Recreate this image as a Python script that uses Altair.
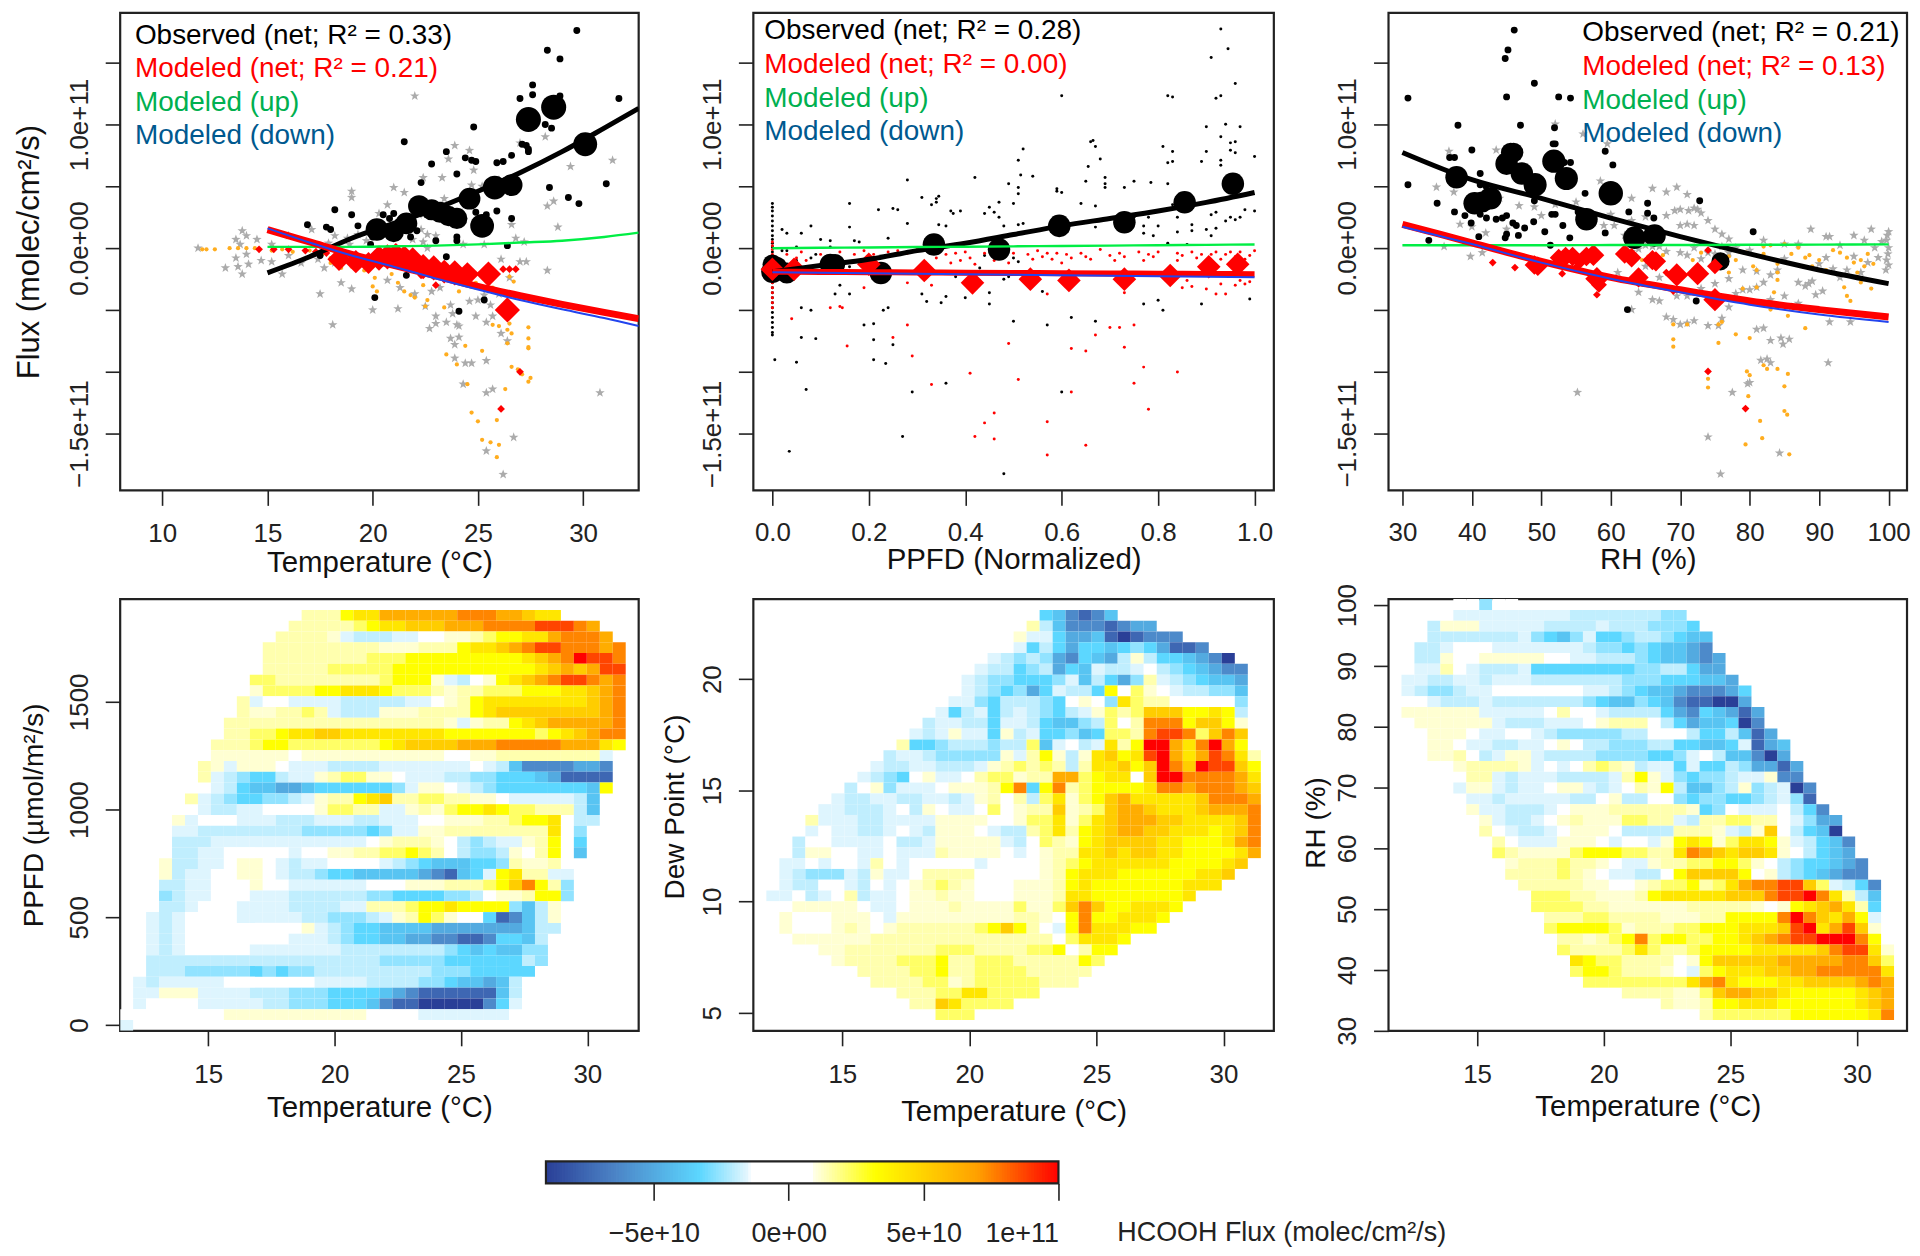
import altair as alt
import pandas as pd

FONT = "Liberation Sans"
FRAME = "#222222"
STAR = "M0,-1L0.24,-0.32L0.95,-0.31L0.38,0.12L0.59,0.81L0,0.4L-0.59,0.81L-0.38,0.12L-0.95,-0.31L-0.24,-0.32Z"
BIG_SCALE = 1.5
DIAMOND_SCALE = 1.6

# ---------- panel 1 : flux vs temperature (flux in units of 1e10) ----------
P1_STARS = [(22,12.3),(28.2,9),(27,8.5),(23.9,8.3),(24.6,7.9),(23.6,7.2),(24.8,6.3),(22.4,5.7),(23.3,5.7),(26,5.5),(26.8,5.4),(24.7,5.1),(25.2,5),(29.4,6.6),(31.4,7.1),(19,4.6),(19,4.1),(21,4.9),(21.5,4.5),(20.7,3.5),(20.3,2.8),(28.6,3.8),(28.8,1.7),(26.6,1.9),(28.3,3.4),(24.4,3.5),(23.4,4),(23.7,3),(22.2,2.7),(17.1,1.5),(13.8,1.4),(14,1),(13.5,.7),(13.7,.3),(14.5,.7),(15.2,.3),(16,1),(18.2,1),(18.8,.8),(19.3,1.1),(20.1,1.4),(19.7,.6),(18.9,.3),(17.9,.4),(17.4,.2),(22.6,1.1),(22.3,1.5),(21.9,.7),(22.4,.5),(23,1),(22.6,0),(24.3,.3),(25.3,.3),(26.8,.8),(27.2,.5),(11.7,0),(13,-1.6),(13.5,-.8),(13.6,-1.5),(14,-.5),(14.1,-1.3),(13.8,-2.1),(14.7,-1),(15.2,-1.1),(15.7,-2.1),(16,-.6),(16.6,-1.2),(17.4,-.9),(17.7,-1.6),(18.2,-1.2),(18.7,-.8),(19.3,-1.1),(17.5,-3.7),(18.5,-2.8),(19,-3.3),(20,-5),(20.7,-2.6),(21.2,-4.9),(21.3,-3.2),(22,-3.7),(18.1,-6.2),(22.5,-4.7),(22.8,-3.5),(23.2,-3.2),(23,-5.5),(23.7,-4.6),(24.6,-4.3),(25,-4.2),(25.3,-3.8),(25.6,-2.2),(26.1,-.9),(26.5,-2.4),(27,-1.1),(27.3,-1.1),(28.3,-1.8),(26,-3.7),(25.6,-4.6),(26.1,-5),(25.4,-6),(24.9,-5.5),(22.7,-6.5),(23,-6.1),(23.5,-6),(23.8,-5.3),(24,-6.2),(24.1,-7.2),(23.7,-7.3),(23.9,-7.8),(24.1,-6.3),(25.7,-5.5),(26.1,-6.9),(26.4,-7.5),(24.4,-9.3),(24.7,-9.3),(23.9,-8.9),(25.4,-9.1),(24.3,-11),(25.4,-11.7),(25.7,-11.4),(30.8,-11.7),(26.7,-15.3),(25.4,-16.4),(26.2,-18.3)]
P1_ORANGE = [(11.9,-.1),(12.1,-.1),(12.5,-.1),(13.2,0),(13.6,0),(14,0),(14.4,0),(15.2,-.2),(15.7,-.1),(16.2,-.3),(17,-.2),(17.6,-.5),(18,-.8),(18,-1.2),(18.5,-1.6),(19,-1.5),(19.6,-1.8),(20.1,-2.4),(20,-3.1),(20.2,-3.5),(20.9,-2.1),(21.2,-2.8),(21.5,-3.5),(21.8,-3.8),(22,-4),(22.4,-3),(22.6,-4.2),(22.5,-4.7),(23.4,-4.8),(24.1,-3.5),(24.4,-2.5),(24.9,-2.8),(25.2,-3.3),(25.7,-3.2),(26.4,-3.6),(26.5,-2.3),(26.7,-2.7),(26.5,-6.1),(26.4,-6.6),(26,-6.3),(25.7,-6.2),(26.6,-6.9),(27.4,-6.4),(27.4,-7.3),(27.4,-8),(27.4,-8.1),(26.4,-7.7),(25.2,-8.3),(23.5,-8.6),(24,-9.4),(24.4,-7.9),(24.5,-11),(24.7,-13.3),(25,-14),(25.2,-15.5),(25.6,-15.7),(26,-15.9),(25.9,-16.9),(25.9,-13.9),(26.3,-11.4),(26.6,-9.6),(26.9,-9.8),(27.1,-10.2),(27.4,-10.8),(27.5,-10.5)]
P1_BLACK = [(29.7,17.6),(28.3,16),(28.9,15.3),(27.6,13.2),(27.6,12.4),(27,12.1),(28.9,12.3),(31.7,12.1),(28.2,10),(28.5,9.7),(24.8,9.8),(21.5,8.6),(27.1,8.4),(27.3,8.3),(27.4,7.8),(27.4,8),(23.5,7.8),(24.4,7.3),(24.7,7.1),(24.9,7),(22.8,6.8),(26.6,7.5),(26.2,7),(25.9,6.9),(24,6),(22.3,5.3),(31.1,5.2),(28.4,4.9),(29.3,4.1),(29.8,3.6),(18.2,3.1),(19,2.7),(16.9,1.9),(17.8,1.7),(18,1.5),(19.3,1.8),(20.5,2.7),(21,2.8),(20.8,2.4),(21.2,2.1),(25.9,3),(24.9,2.9),(25.4,2.7),(26.6,2.4),(26.4,.2),(23.5,-.7),(24,.9),(24,.6),(25.3,-4.2),(24.1,-5.1),(20.1,-4),(22.1,1.4),(21.8,.9),(23,.6),(20,.9),(19.9,.3),(21.6,-2.2),(17.5,-.6)]
P1_RED = [(14.6,-.1),(15.3,-.1),(16,-.1),(16.8,-.2),(17.3,-.3),(17.8,-.4),(26.2,-1.7),(26.5,-1.7),(26.8,-1.7),(27,-10),(26.1,-13),(22.3,-2.2),(23,-3)]
P1_BIG = [(27.4,10.4,420),(28.6,11.4,420),(30.1,8.4,380),(26.6,5.1,320),(25.8,4.9,380),(24.6,4,320),(25.2,1.8,380),(24,2.4,300),(23.2,2.9,300),(22.8,3.1,300),(22.2,3.4,320),(21.6,2,320),(21,1.3,280),(20.2,1.5,340),(23.6,2.6,280)]
P1_DIAMONDS = [(18.4,-.9,340),(19.2,-1.1,340),(19.8,-1.2,300),(20.3,-.8,400),(20.7,-.7,400),(21.1,-.6,400),(21.5,-.8,400),(21.9,-.9,360),(22.4,-1.5,400),(22.9,-1.6,400),(23.4,-1.9,360),(23.9,-2,400),(24.5,-2.1,360),(25.5,-2.1,400),(26.4,-5,400)]
P1_LINE_X = [15,17,19,21,23,25,27,29,31,32.64]
P1_OBS = [-2,-.7,.8,2,3.2,4.6,6.1,7.8,9.7,11.3]
P1_MOD = [1.5,.5,-.5,-1.4,-2.25,-3.1,-3.85,-4.55,-5.2,-5.7]
P1_DOWN = [1.6,.45,-.6,-1.5,-2.45,-3.35,-4.2,-4.95,-5.65,-6.3]
P1_UP = [.1,.1,.1,.15,.2,.3,.45,.6,.9,1.25]
P1_TEXT = ["Observed (net; R² = 0.33)", "Modeled (net; R² = 0.21)", "Modeled (up)", "Modeled (down)"]

# ---------- panel 2 : flux vs normalized PPFD ----------
P2_BLACK = [(0.93,17.7),(0.945,16.1),(0.91,15.4),(0.96,13.3),(0.6,12.3),(0.82,12.3),(0.83,12.2),(0.92,12.1),(0.93,12.3),(0.94,10),(0.97,9.8),(0.9,9.8),(0.93,9),(0.95,8.5),(0.96,8.6),(0.66,8.6),(0.665,8.7),(0.67,8.2),(0.52,8),(0.81,8.2),(0.83,7.8),(0.9,7.8),(0.95,7.9),(0.96,7.7),(1,7.4),(0.68,7.2),(0.51,7.1),(0.655,6.6),(0.83,7),(0.82,6.9),(0.89,7),(0.93,7.1),(0.93,6.7),(0.42,5.7),(0.515,5.9),(0.54,5.8),(0.69,5.7),(0.65,5.4),(0.69,5.2),(0.69,4.9),(0.75,5.4),(0.785,5.3),(0.82,5.2),(0.49,5.2),(0.28,5.5),(0.51,4.9),(0.51,4.4),(0.73,4.9),(0.59,4.8),(0.59,4.6),(0.6,4.5),(0.31,4.1),(0.34,4.0),(0.345,4.2),(0.34,3.7),(0.33,3.5),(0.16,3.6),(0.47,3.7),(0.5,3.6),(0.45,3.3),(0.64,3.6),(0.67,3.4),(0.83,3.5),(0.98,3.1),(1,3),(0.22,3.1),(0.25,3.2),(0.26,3.1),(0.37,3),(0.375,2.8),(0.44,2.8),(0.46,2.9),(0.47,2.5),(0.92,2.9),(0.91,2.7),(0.84,2.5),(0.78,2.5),(0.39,3),(0.75,2.5),(0.97,2.5),(0.96,2.3),(0.95,2.5),(0.94,2.2),(0.92,1.6),(0.87,1.9),(0.8,1.8),(0.77,1.8),(0.16,1.7),(0.08,1.8),(0.28,2),(0.345,1.9),(0.36,1.8),(0.51,1.9),(0.52,2),(0.48,1.8),(0.67,1.7),(0.72,1.8),(0.77,1.2),(0.79,1),(0.84,1.3),(0.87,1.4),(0.9,1.5),(0.91,1),(0.82,.4),(0.86,.3),(0.02,1.5),(0.03,1.2),(0.06,1.2),(0.1,.7),(0.12,.6),(0.12,.1),(0.17,.6),(0.18,.5),(0.24,.8),(0.09,-.5),(0.08,-.8),(0.03,-.2),(0.05,.1),(0.02,-.2),(0.05,-1),(0.44,-.6),(0.5,-.8),(0.51,-1.1),(0.43,-1.6),(0.48,-2.5),(0.49,-2.3),(0.38,-2.3),(0.2,-1.5),(0.16,-1.5),(0.21,-1.1),(0.1,-2),(0.14,-3),(0.13,-3.7),(0.16,-3.7),(0.36,-3.9),(0.4,-4),(0.56,-3.5),(0.31,-3.7),(0.32,-4.3),(0.35,-4.4),(0.45,-4.5),(0.45,-3.6),(0.8,-4.2),(0.81,-5),(0.89,-4.5),(0.99,-4.1),(0.77,-4.5),(0.06,-4.8),(0.08,-5),(0.24,-4.8),(0.23,-5),(0.19,-6.2),(0.21,-6.1),(0.5,-5.9),(0.57,-6.2),(0.62,-5.6),(0.67,-5.9),(0.06,-7.2),(0.09,-7.3),(0.21,-7.4),(0.25,-7.8),(0.21,-9),(0.235,-9.3),(0.005,-9),(0.05,-9.2),(0.07,-11.4),(0.36,-10.9),(0.29,-11.6),(0.6,-11.6),(0.27,-15.2),(0.035,-16.4),(0.48,-18.2)]
P2_BLACK_STREAK = [3.6,3.3,3,2.6,2.2,1.8,1.4,1,.7,.4,.1,-.3,-.7,-1.1,-2.4,-2.8,-3.2,-3.6,-4,-4.4,-4.8,-5.2,-5.6,-6,-6.4,-6.8,-7]
P2_RED = [(0.03,-.5),(0.05,-.8),(0.06,-.3),(0.07,-1),(0.1,-.5),(0.12,-.9),(0.14,-.3),(0.17,-.5),(0.19,-.2),(0.21,-.5),(0.24,-.3),(0.26,-.2),(0.28,-.4),(0.3,-.1),(0.33,-.3),(0.34,-.8),(0.36,-.5),(0.37,-1.2),(0.38,-.4),(0.39,-1),(0.4,-.3),(0.41,-.8),(0.42,-1.3),(0.44,-.4),(0.46,-1),(0.47,-.3),(0.49,-1.2),(0.5,-.4),(0.53,-.5),(0.54,-.9),(0.55,-.2),(0.56,-.7),(0.57,-.4),(0.58,-.9),(0.59,-.4),(0.6,-1.2),(0.61,-.5),(0.62,-.8),(0.64,-.4),(0.65,-.7),(0.66,-.9),(0.68,-.1),(0.7,-.6),(0.71,-1),(0.72,-.4),(0.73,-.7),(0.76,-.3),(0.77,-1),(0.78,-.5),(0.79,-.7),(0.8,-.3),(0.84,-.4),(0.84,-1),(0.85,-.6),(0.87,-.3),(0.88,-.8),(0.89,-.5),(0.9,-1),(0.91,-.5),(0.92,-.3),(0.93,-.9),(0.94,-.5),(0.95,-.3),(0.96,-.7),(0.97,-.3),(0.98,-.9),(0.99,-.6),(1,-.2),(0.99,-2.7),(0.97,-2.6),(0.93,-2.9),(0.9,-3.3),(0.87,-3.1),(0.85,-3.2),(0.86,-2.6),(0.92,-3.7),(0.94,-3.7),(0.96,-3),(0.98,-2.9),(0.73,-3.6),(0.43,-2.6),(0.57,-3.7),(0.33,-3),(0.28,-2.8),(0.19,-3.2),(0.14,-4.7),(0.12,-4.8),(0.145,-4.8),(0.04,-5.7),(0.28,-6.2),(0.25,-7.2),(0.155,-7.9),(0.29,-8.7),(0.49,-7.7),(0.62,-8.1),(0.65,-8.3),(0.67,-7),(0.7,-6.4),(0.72,-6.4),(0.75,-6.2),(0.73,-8),(0.77,-9.6),(0.84,-10),(0.75,-10.9),(0.62,-11.6),(0.51,-10.6),(0.41,-10.1),(0.33,-11),(0.78,-13),(0.46,-13.3),(0.44,-14.1),(0.57,-14),(0.42,-15.2),(0.46,-15.4),(0.65,-15.9),(0.57,-16.7)]
P2_RED_STREAK = [.5,.2,-.1,-.5,-.9,-1.2,-2.4,-2.8,-3.2,-3.6,-4,-4.4,-4.8]
P2_BIG = [(0,-1.9,340),(0.03,-2,300),(0.12,-1.3,300),(0.13,-1.3,280),(0.225,-2,340),(0.335,.3,340),(0.47,-.1,340),(0.595,1.8,340),(0.73,2.1,340),(0.855,3.7,340),(0.955,5.2,340),(0,-1.3,260),(0.01,-1.5,260)]
P2_DIAMONDS = [(0,-1.7,350),(0.045,-1.7,350),(0.2,-1.3,350),(0.315,-1.8,350),(0.415,-2.8,350),(0.535,-2.5,350),(0.615,-2.6,350),(0.73,-2.5,350),(0.825,-2.2,350),(0.905,-1.5,350),(0.965,-1.3,350)]
P2_LINE_X = [0,.1,.2,.3,.4,.5,.6,.7,.8,.9,1]
P2_OBS = [-1.9,-1.4,-.9,-.2,.4,1.1,1.8,2.4,3,3.7,4.5]
P2_MOD = [-1.9,-1.92,-1.94,-1.96,-1.98,-2,-2.02,-2.04,-2.06,-2.08,-2.1]
P2_DOWN = [-1.95,-1.99,-2.03,-2.07,-2.11,-2.15,-2.19,-2.23,-2.27,-2.31,-2.35]
P2_UP = [0,.03,.06,.09,.12,.15,.18,.21,.24,.27,.3]
P2_TEXT = ["Observed (net; R² = 0.28)", "Modeled (net; R² = 0.00)", "Modeled (up)", "Modeled (down)"]

# ---------- panel 3 : flux vs relative humidity ----------
P3_STARS = [(52,10),(56,9.2),(59.5,8.4),(36.7,7.8),(43.5,7.9),(46.5,6.5),(38,5.7),(34.9,4.9),(37.4,4.5),(44,4),(46.8,3.4),(49,3.3),(52,3.5),(55,3.7),(50,2.6),(58.5,5.4),(60,2.7),(63,4),(66,4.8),(68,4.5),(69.5,4.9),(71,4.3),(70,3.1),(69.2,3),(71.2,3),(72,3.2),(72.5,3.1),(73,2.8),(68,2.6),(65,2.5),(63,2.2),(70,1.8),(71,1.9),(72,1.8),(74,2.2),(75,1.5),(76,1.1),(77,.7),(62,1),(60.5,1.8),(59,1.8),(57.5,2),(45,1.5),(42,1.2),(40,1.7),(38.3,1.9),(36,.1),(39.8,-.7),(41.5,-.4),(63,-.3),(64,-.1),(65,.2),(66,.1),(67,.1),(68,-.3),(70,-.4),(71,-.6),(72,0),(73,-.9),(74,-.4),(75,-.5),(76,.1),(77,-.4),(78,0),(80,-.2),(82,.6),(85,.3),(87,.3),(88.8,1.5),(91,.9),(91.5,.9),(93,.2),(95,1),(97.5,1.5),(96.5,.6),(98,0),(99,.5),(99.8,1),(100,1.3),(99.7,.6),(100,0),(99.9,-.5),(99.7,-1),(100,-1.4),(99.6,-1.8),(98.5,-.8),(97,-1.2),(96,-2),(95,-.7),(94,-1.8),(93,-2.4),(92,-1.7),(91,-.8),(90,-1.3),(89,-2.7),(88,-3.1),(90.5,-3.5),(87,-2.8),(85,-.9),(84,-1.8),(83,-2.2),(82,-2.8),(81,-3.2),(80,-3.4),(79,-3.4),(78,-3.7),(77,-4.8),(76,-5.7),(75.5,-6.3),(74,-6.3),(72,-5.9),(71,-6.1),(70,-6.2),(69,-5.8),(68,-5.6),(67,-4.3),(66,-4.2),(64,-3.6),(63,-5),(61,-2),(65,-1.5),(67,-2.4),(69.5,-3.9),(71,-3.9),(73,-3.3),(75,-2.9),(77,-2.5),(79,-1.8),(81,-1.9),(83,-4.2),(85,-3.9),(87,-4.5),(86,-4.8),(88.5,-2.9),(89.5,-3.8),(91.5,-6),(94.5,-6),(81,-6.6),(82,-6.5),(83,-7.5),(84.5,-7.3),(85.7,-7.4),(84.8,-7.8),(82.5,-9),(83,-9.3),(81.6,-9.1),(79.7,-11),(80,-10.9),(77.5,-11.7),(55.2,-11.7),(91.3,-9.3),(74,-15.3),(84.3,-16.6),(75.8,-18.3)]
P3_ORANGE = [(63,-2.7),(64.5,-1),(65.4,-.7),(67.5,-.6),(71.8,-1),(73,-.4),(75.3,-1),(75.8,-1.3),(77,-.7),(78,-1),(78.5,-.3),(79.5,-.4),(80.5,-1.5),(81,-1.8),(82,.1),(83,.2),(84,-1.3),(84,-2),(84,-2.6),(83.5,-3.6),(82,-.5),(85,.3),(86,-.5),(87,0),(88,-.8),(88.6,-.6),(89,-1.5),(90,-1),(91,-1.8),(92,-.2),(93,-.4),(94,-.8),(95,-1.2),(95.5,-2),(96,-1),(96.5,-1.5),(97,-.5),(97.8,-1.3),(96,-2.8),(97.5,-3.3),(94,-3.9),(94.5,-4.3),(93.6,-3.2),(69,-6.2),(69,-7.4),(69,-8),(71,-6.2),(75.5,-6.2),(75.5,-7.7),(78,-7),(80,-7.3),(79.6,-10),(79.8,-12),(80,-10.3),(82,-9.5),(82.5,-9.8),(84,-9.8),(85,-11.2),(85.5,-10.2),(85,-13.2),(85.4,-13.5),(81.5,-14),(81.8,-15.4),(79.4,-15.9),(85.7,-16.7),(74,-10.6),(74,-11.3),(76,-6),(77,-2),(79,-3.3),(81,-3.2),(82,-4.5),(83,-5),(85.5,-5.5),(88,-6.5)]
P3_BLACK = [(46.1,17.6),(45.2,16),(44.8,15.3),(49,13.3),(45,12.2),(52.5,12.2),(54.2,12.1),(30.8,12.1),(51.9,9.7),(38,9.9),(47,9.9),(59.2,7.8),(40,7.9),(60.3,6.7),(30.8,5.1),(56.3,4.4),(35,3.6),(37.5,2.9),(39,2.6),(39.9,2),(41.2,2.7),(42.1,2.4),(43.5,2.3),(44.4,2.4),(45,2.6),(45.9,2),(46.4,1.8),(47.6,1.6),(48.9,2.1),(50.5,1.3),(51.5,2.7),(52,2.7),(53.1,1.8),(54.1,.8),(51.3,.2),(55.3,2.9),(46.7,1),(45,1.1),(44.8,.8),(41,.9),(33.8,.6),(49,3.8),(41.2,5.1),(41.2,6),(42,5),(36.8,7.3),(37.5,7.3),(51.7,8.4),(52,8.4),(53.3,6.9),(54.2,6.9),(59.2,1.2),(62.6,2.9),(65.3,3.6),(65.3,2.8),(66.2,2.4),(72.8,3.8),(80.5,1.3),(75.8,-.8),(72.3,-4.3),(62.4,-5),(69,-2.3)]
P3_RED = [(43,-1.2),(46.2,-1.6),(69,-3.5),(58,-3.8),(53,-2.1),(54.9,-1.6),(74,-10),(79.4,-13),(68,-2),(74,-.2)]
P3_BIG = [(37.8,5.7,340),(40.4,3.6,340),(41.5,3.7,300),(42.7,4,340),(45,6.8,340),(45.6,7.7,260),(46,7.7,260),(47.2,6,340),(49.1,5.1,360),(51.8,7,360),(53.6,5.6,360),(60,4.4,400),(56.5,2.3,340),(63.4,.8,340),(66.3,1,340),(75.8,-1.1,220)]
P3_DIAMONDS = [(49,-1.4,240),(49.5,-1.5,240),(52.5,-.8,200),(53.5,-.7,240),(54.5,-.7,240),(56.5,-.7,240),(57.5,-.6,300),(58,-2.5,340),(62,-.5,240),(63,-.8,240),(66,-1,260),(66.5,-1.1,260),(64,-2.4,260),(69.5,-2.2,340),(72.5,-2.1,340),(75,-4.2,340),(58.3,-3,160),(75,-1.5,160),(55.5,-1.1,160)]
P3_LINE_X = [30,40,50,60,70,80,90,100]
P3_OBS = [7.7,5.5,4,2.4,.9,-.5,-1.8,-2.9]
P3_MOD = [1.9,.4,-1.1,-2.4,-3.4,-4.3,-5,-5.6]
P3_DOWN = [1.7,.3,-1.2,-2.5,-3.6,-4.6,-5.4,-6]
P3_UP = [.2,.2,.2,.22,.22,.24,.25,.27]
P3_TEXT = ["Observed (net; R² = 0.21)", "Modeled (net; R² = 0.13)", "Modeled (up)", "Modeled (down)"]

# ---------- heat maps : one character per cell ----------
LEVELS = {"A":-9,"B":-7.5,"C":-6.2,"D":-5,"E":-4,"F":-3.3,"G":-2.6,"H":-2,"I":-1.6,
          "0":0,"1":1.15,"2":1.5,"3":2.2,"4":3.2,"5":4.2,"6":5.2,"7":6.5,"8":7.5,"9":8.7,"R":10}
COLOR_STOPS = [-9,-6.5,-3.3,-1.5,-1.4,0.87,0.95,3.2,7,10]
COLOR_HEX = ["#2a3f97","#4b82c5","#5cd7ff","#e6f7fe","#ffffff","#ffffff","#ffffe6","#ffff00","#ffa000","#ff0000"]

P4_STARTS = [0,14,13,12,11,11,11,10,10,9,9,8,8,7,7,6,6,7,5,6,4,4,4,4,3,3,3,3,3,2,2,2,2,2,2,1,1,1,0,0]
P4_ROWS = ["",
"22245577777788877655","222223455666777888899987","22221IHHHII001123445578887",
"2222222221112224556789988878","2222222233344444444 45678R998".replace(" ",""),"2222233333444444444445676799",
"33222222223444 1IH014567899878".replace(" ",""),"13333445554333212233344455678",
"2I00IIIIHHHHHII01245555555 5678".replace(" ",""),"2112232IHHH111222245666666 6678".replace(" ",""),
"22222222222222222 1I122456777778".replace(" ",""),"22334556655555555444444434567 88".replace(" ",""),
"22234433333334566667778888877 754".replace(" ",""),"1111110111111111110011222222 22I".replace(" ",""),
"21I1110IIIHHHHIIIIIII0IHECCCCDDC","2IHGFFHII12331 10IIIHHGGFFFEDBBBB".replace(" ",""),
"IHFEEDDEFFFFFFGI110IHGFFFFFFFE4","2IHGFFGGHI1224562233221 10IIIIIHE".replace(" ",""),
"IHHII000013322II1213445433222HE","1I000IIIHHHIIIHHIII001112234450HH","IIHHHHHHHHGGGGGFGII112222222250G",
"HHHIIIIIIIIIIII01222 10HGHII1240F".replace(" ",""),"HHII00000I00112233432 0HGGH10240E".replace(" ",""),
"1HHII0110IHII0000IHGFEEEFFG2112","1HII00110IHHGFFEEEEEDCBEFI4522II","HHII00010 0IIIIII0001112223468 42G".replace(" ",""),
"GHII000IIIHHHHHHGGFFFFGGH011244G","HHI000IIIIHHHHII2223 445444 4GEH1".replace(" ",""),
"IHI0000IIIIIHHGGGHI12431 00FBCEH1".replace(" ",""),"IHI0000000001IHGFFEEEEDDDDDDDEHH","IHI00000000IIIHGFFEEDDCCBBCFFEH",
"IHI00000IIIIIIIHHHHHHHHGFEFEEGG","HHHHHHHHHHHHHHHHHHGGGGGFFFFFFHG","HHHGGGGGFGFGGHHHHHHHHHGGGFFFFF",
"IHIIIII0000000IIIIHHHHGGFEEDEH","II111IIIIHHHGGGFFFFEDCBBBBBBEH","I0000IIIIIHHGGGFFFECBBAAAAACFI",
"000000001111111111100 00IIIIIII".replace(" ",""),"I"]

P5_STARTS = [0,22,21,20,19,18,17,16,16,15,14,13,12,11,10,9,8,7,6,5,4,4,3,3,2,2,2,1,1,2,2,3,5,6,8,9,11,12,14]
P5_ROWS = ["","FECBCE","2HECCCBCDD","1IIFDDEBABCCC","0IFHFDFFEFGFDBBC","IHGHGDCFEDH1HFFEDCA","IHHFGHDFEIHHI0HGFEDCC",
"IHGGFFFGIEHFDG2IHGFEED","IHGFGDFIHHF40310IHHGGE","IIGFHHHGF010G532200000G","IFHIFHIHGFHI13236664454H",
"HIIHHFIIHFEEGH30288846641","IHI1IIF1HIFFGEF33289983686","2FFGHHHGHH3EI0HI524RR758R74","HIIHGGGGG1I241H156459R7579852",
"IHHIIHHHI123232H255646R86R9964","IHGF01II023312277345506RR888875","H01GIII0111248F48234444588788876",
"IHHIIHHIIHI1202H35134675555568887","IIHHHI0H10II0301226123677655567778","2IIIHHIIII1111001335135677766555568",
"I0IIHHI0IH1110IHH235245677665554568","H00IIII0HHI11111IH032145666655444578","H1100II0III211110I012255656655444457",
"II0I00I20I00000I00001234555555444456","IHGGGIH1II022220000012455544444 4556".replace(" ",""),"IHH00IH0I0123210001112454444444555",
"II0HI02HII01121100011125544444445","00111110II0111211113113686445554","10001110I111111111221048445554",
"100012101222222346420I4855544","11111122222222222222035554","11222222233322223340244","122223334223332222243",
"222233422333322222","2222331233333222","22233553333","22653333","333"]

P6_STARTS = [5,4,3,3,2,2,2,1,1,1,1,2,2,3,3,4,6,5,6,6,7,7,8,8,9,9,10,11,11,12,12,13,13,14,14,15,18,21,24]
P6_ROWS = ["00G00","0IIIIIIIIIHHHHHHHGG","H111IIIIIHHHHIHHHGGGF","HHHHHHHIGFEGIFFGHHGFEE","HHI000IIIIIIIHGGFGFEEDC",
"HH1001111100IIHHHGFEEDCD","II20IHHHIFFFFFFFFGGHHFDD","IIHHIIHIIIHHHHHHHGGGFFFEED","IHGGHII0000000IIHGFEEDCCCDF",
"00IHHHIHHHHHHHGFEEGFECBBAAD","111111IIIII0200IHHHHFDCFEDBD","111111IHHHIII012220HFDEEFAC","01110II00IHGGGGGHH000HFFHEBD",
"110IIHHII010HHGGGHHFFEEFIBDE","1120HI11IHHHHGGGGFFGI0HEECAD","0122221I0I02321HIIFIFFHGDDBD","22IHIIIHHHHI241IGFGGHII1CC",
"I11IHII011IHI0214HEEGH1GHIAC","IIHIIIIIHH01HH00GFGGFFGHIGB","1IIHHHI01112222221FG0III0HFC","1IHHI0121113322IH2233220IGDD",
"20IHHI01110HHHH2221IH160HFEA","20III1110I00I1454135541IHFEC","3211113444332258765665 10HFED".replace(" ",""),
"122232210II1223344310HGFFEDC","22223210IIHH046666401HGFEDCC","222221100123342357889963IHFC","333221112455555666899R852HE",
"33332211111122222101456752F","2223322221112244448R86574I","34444312223344455569R57961","22123483443344567899RRR84",
"32222353223444455555689951","5433222201466666777778863","344322210I345556677888885","333333335785444556666787",
"222211367766544444567","211244555444444567","233333344444458"]

# ---------- axis helpers ----------
def num_axis(title, ticks, labels=None, rotated=False, title_pad=2, label_pad=15.5, title_y=None, title_size=29.5):
    kw = dict(title=title, values=ticks, grid=False, domain=False, ticks=True, tickSize=15, tickWidth=1.6,
              tickColor=FRAME, labelFont=FONT, labelFontSize=26, labelColor="#222222", labelPadding=label_pad,
              titleFont=FONT, titleFontSize=title_size, titleFontWeight="normal", titleColor="#111111", titlePadding=title_pad,
              labelOverlap=False)
    if labels is not None:
        expr = "''"
        for v, s in reversed(labels):
            expr = f"datum.value=={v}?'{s}':{expr}"
        kw["labelExpr"] = expr
    else:
        kw["format"] = "d"
    if rotated:
        kw.update(labelAngle=270, labelAlign="center", labelBaseline="bottom")
    if title_y is not None:
        kw["titleY"] = title_y
    return alt.Axis(**kw)

def pts(rows, columns=("x", "y")):
    return pd.DataFrame(rows, columns=list(columns))

def sized(rows, scale):
    return pd.DataFrame([(a, b, c * scale) for a, b, c in rows], columns=["x", "y", "s"])

FLUX_TICKS = [-15, -10, -5, 0, 5, 10, 15]
FLUX_LABELS = [(10, "1.0e+11"), (0, "0.0e+00"), (-15, "−1.5e+11")]
TEXT_COLORS = ["#000000", "#ff0000", "#00b050", "#00598f"]

def flux_panel(xdom, ydom, xticks, xtitle, ytitle, stars, orange, black, red, big, diamonds,
               line_x, obs, mod, down, up, text, text_x, text_y, width, height, dot_size, xlabels=None, xtitle_pad=2, xlabel_pad=15.5):
    xs = alt.Scale(domain=xdom, nice=False, zero=False)
    ys = alt.Scale(domain=ydom, nice=False, zero=False)
    X = alt.X("x:Q", scale=xs, axis=num_axis(xtitle, xticks, xlabels, title_pad=xtitle_pad, label_pad=xlabel_pad))
    Y = alt.Y("y:Q", scale=ys, axis=num_axis(ytitle, FLUX_TICKS, FLUX_LABELS, rotated=True, title_pad=21, label_pad=13, title_size=31))
    layers = []
    if stars:
        layers.append(alt.Chart(pts(stars)).mark_point(filled=True, shape=STAR, size=100, color="#ababab", opacity=1).encode(x=X, y=Y))
    if orange:
        layers.append(alt.Chart(pts(orange)).mark_circle(size=18, color="#ffad1f", opacity=1).encode(x=X, y=Y))
    layers.append(alt.Chart(pts(black)).mark_circle(size=dot_size, color="#000000", opacity=1).encode(x=X, y=Y))
    if red:
        layers.append(alt.Chart(pts(red)).mark_point(filled=True, shape="diamond" if dot_size > 10 else "circle",
                                                    size=60 if dot_size > 10 else dot_size, color="#ff0000", opacity=1).encode(x=X, y=Y))
    layers.append(alt.Chart(sized(big, BIG_SCALE)).mark_circle(color="#000000", opacity=1).encode(x=X, y=Y, size=alt.Size("s:Q", scale=None)))
    layers.append(alt.Chart(sized(diamonds, DIAMOND_SCALE)).mark_point(filled=True, shape="diamond", color="#ff0000", opacity=1).encode(x=X, y=Y, size=alt.Size("s:Q", scale=None)))
    red_w = 7 if dot_size > 10 else 6
    for vals, col, w in [(obs, "#000000", 5), (up, "#00ee44", 2.4), (mod, "#ff0000", red_w), (down, "#2244ee", 2)]:
        df = pd.DataFrame({"x": line_x, "y": vals})
        layers.append(alt.Chart(df).mark_line(color=col, strokeWidth=w, interpolate="monotone", clip=True).encode(x=X, y=Y))
    tdf = pd.DataFrame({"x": [text_x] * 4, "y": text_y, "t": text, "c": TEXT_COLORS})
    layers.append(alt.Chart(tdf).mark_text(font=FONT, fontSize=28, align="left", baseline="middle").encode(
        x=X, y=Y, text="t:N", color=alt.Color("c:N", scale=None)))
    return alt.layer(*layers).properties(width=width, height=height)

def heat_panel(starts, rows, xdom, ydom, xtitle, ytitle, yticks, width, height, ylabels=None, title_y=None, ytitle_pad=14, xtitle_pad=4):
    dx = (xdom[1] - xdom[0]) / 40
    dy = (ydom[1] - ydom[0]) / 40
    recs = []
    for r, (st, row) in enumerate(zip(starts, rows)):
        for i, ch in enumerate(row):
            c = st + i
            recs.append({"x": xdom[0] + c * dx, "x2": xdom[0] + (c + 1) * dx,
                         "y": ydom[1] - r * dy, "y2": ydom[1] - (r + 1) * dy, "v": LEVELS[ch]})
    df = pd.DataFrame(recs)
    return alt.Chart(df).mark_rect(clip=True).encode(
        x=alt.X("x:Q", scale=alt.Scale(domain=xdom, nice=False, zero=False), axis=num_axis(xtitle, [15, 20, 25, 30], title_pad=xtitle_pad)),
        x2="x2:Q",
        y=alt.Y("y:Q", scale=alt.Scale(domain=ydom, nice=False, zero=False),
                axis=num_axis(ytitle, yticks, ylabels, rotated=True, title_pad=ytitle_pad, label_pad=13, title_y=title_y, title_size=28)),
        y2="y2:Q",
        color=alt.Color("v:Q", scale=alt.Scale(domain=COLOR_STOPS, range=COLOR_HEX, interpolate="rgb", clamp=True), legend=None),
    ).properties(width=width, height=height)

TOP_H, BOT_H = 479, 433
COL_W = [520, 522, 520]

p1 = flux_panel([8.0, 32.64], [-19.59, 19.03], [10, 15, 20, 25, 30], "Temperature (°C)", "Flux (molec/cm²/s)",
                P1_STARS, P1_ORANGE, P1_BLACK, P1_RED, P1_BIG, P1_DIAMONDS, P1_LINE_X, P1_OBS, P1_MOD, P1_DOWN, P1_UP,
                P1_TEXT, 8.7, [17.15, 14.45, 11.75, 9.05], COL_W[0], TOP_H, 48)
streak = [(0, v) for v in P2_BLACK_STREAK]
rstreak = [(0, v) for v in P2_RED_STREAK]
p2 = flux_panel([-0.0395, 1.04], [-19.55, 19.0], [0, .2, .4, .6, .8, 1], "PPFD (Normalized)", "",
                [], [], P2_BLACK + streak, P2_RED + rstreak, P2_BIG, P2_DIAMONDS, P2_LINE_X, P2_OBS, P2_MOD, P2_DOWN, P2_UP,
                P2_TEXT, -0.017, [17.5, 14.8, 12.0, 9.4], COL_W[1], TOP_H, 9,
                xlabels=[(0, "0.0"), (.2, "0.2"), (.4, "0.4"), (.6, "0.6"), (.8, "0.8"), (1, "1.0")], xtitle_pad=0.5, xlabel_pad=14)
p3 = flux_panel([28.0, 102.65], [-19.62, 19.0], [30, 40, 50, 60, 70, 80, 90, 100], "RH (%)", "",
                P3_STARS, P3_ORANGE, P3_BLACK, P3_RED, P3_BIG, P3_DIAMONDS, P3_LINE_X, P3_OBS, P3_MOD, P3_DOWN, P3_UP,
                P3_TEXT, 55.9, [17.4, 14.6, 11.9, 9.2], COL_W[2], TOP_H, 48, xtitle_pad=0.5, xlabel_pad=14)

p4 = heat_panel(P4_STARTS, P4_ROWS, [11.52, 32.03], [-27, 1977], "Temperature (°C)", "PPFD (µmol/m²/s)", [0, 500, 1000, 1500], COL_W[0], BOT_H,
                ytitle_pad=18, xtitle_pad=6)
p5 = heat_panel(P5_STARTS, P5_ROWS, [11.5, 31.98], [4.19, 23.6], "Temperature (°C)", "Dew Point (°C)", [5, 10, 15, 20], COL_W[1], BOT_H,
                ytitle_pad=10, xtitle_pad=10, title_y=208)
p6 = heat_panel(P6_STARTS, P6_ROWS, [11.5, 31.98], [30, 101], "Temperature (°C)", "RH (%)", [30, 40, 50, 60, 70, 80, 90, 100], COL_W[2], BOT_H,
                ytitle_pad=4, xtitle_pad=5, title_y=224)

# ---------- colour bar ----------
BAR_LOW, BAR_HIGH, BAR_STEP = -9, 10, 0.1
BAR_TITLE = "HCOOH Flux (molec/cm²/s)"
bar_vals = [BAR_LOW + i * BAR_STEP for i in range(int((BAR_HIGH - BAR_LOW) / BAR_STEP))]
bar_df = pd.DataFrame({"x": bar_vals, "x2": [min(v + 0.13, BAR_HIGH) for v in bar_vals], "v": [v + 0.05 for v in bar_vals]})
bar_x = alt.X("x:Q", scale=alt.Scale(domain=[BAR_LOW, BAR_HIGH], range=[-208, 306], nice=False, zero=False), axis=alt.Axis(
    title=None, values=[-5, 0, 5, 10], grid=False, domain=False, tickSize=17, tickWidth=1.6, tickColor=FRAME,
    labelFont=FONT, labelFontSize=27, labelColor="#222222", labelPadding=20, labelOverlap=False,
    labelExpr="datum.value==-5?'−5e+10':datum.value==0?'0e+00':datum.value==5?'5e+10':'1e+11'"))
bar_rect = alt.Chart(bar_df).mark_rect().encode(
    x=bar_x, x2="x2:Q", y=alt.value(22), y2=alt.value(44),
    color=alt.Color("v:Q", scale=alt.Scale(domain=COLOR_STOPS, range=COLOR_HEX, interpolate="rgb", clamp=True), legend=None))
bar_frame = alt.Chart(pd.DataFrame({"x": [BAR_LOW], "x2": [BAR_HIGH]})).mark_rect(
    fillOpacity=0, stroke=FRAME, strokeWidth=2.2).encode(x=bar_x, x2="x2:Q", y=alt.value(22), y2=alt.value(44))
bar_title = alt.Chart(pd.DataFrame({"x": [12.18], "t": [BAR_TITLE]})).mark_text(
    font=FONT, fontSize=27, align="left", baseline="middle", color="#222222").encode(
    x=bar_x, y=alt.value(94), text="t:N")
NO_FRAME = alt.ViewConfig(stroke="transparent")
bar = alt.layer(bar_rect, bar_frame, bar_title).properties(width=COL_W[1], height=44, view=NO_FRAME)
blank = alt.Chart(pd.DataFrame({"x": [0]})).mark_point(opacity=0).encode(x=alt.value(0)).properties(
    width=COL_W[0], height=44, view=NO_FRAME)

chart = alt.concat(p1, p2, p3, p4, p5, p6, blank, bar, columns=3, bounds="flush", align="each",
                   spacing={"row": 109, "column": 115}).properties(
    padding={"left": 3.5, "top": 1, "right": 0, "bottom": 0}, background="white"
).configure_view(stroke=FRAME, strokeWidth=2.2)

chart.save("out.html", embed_options={"renderer": "svg", "actions": False})
